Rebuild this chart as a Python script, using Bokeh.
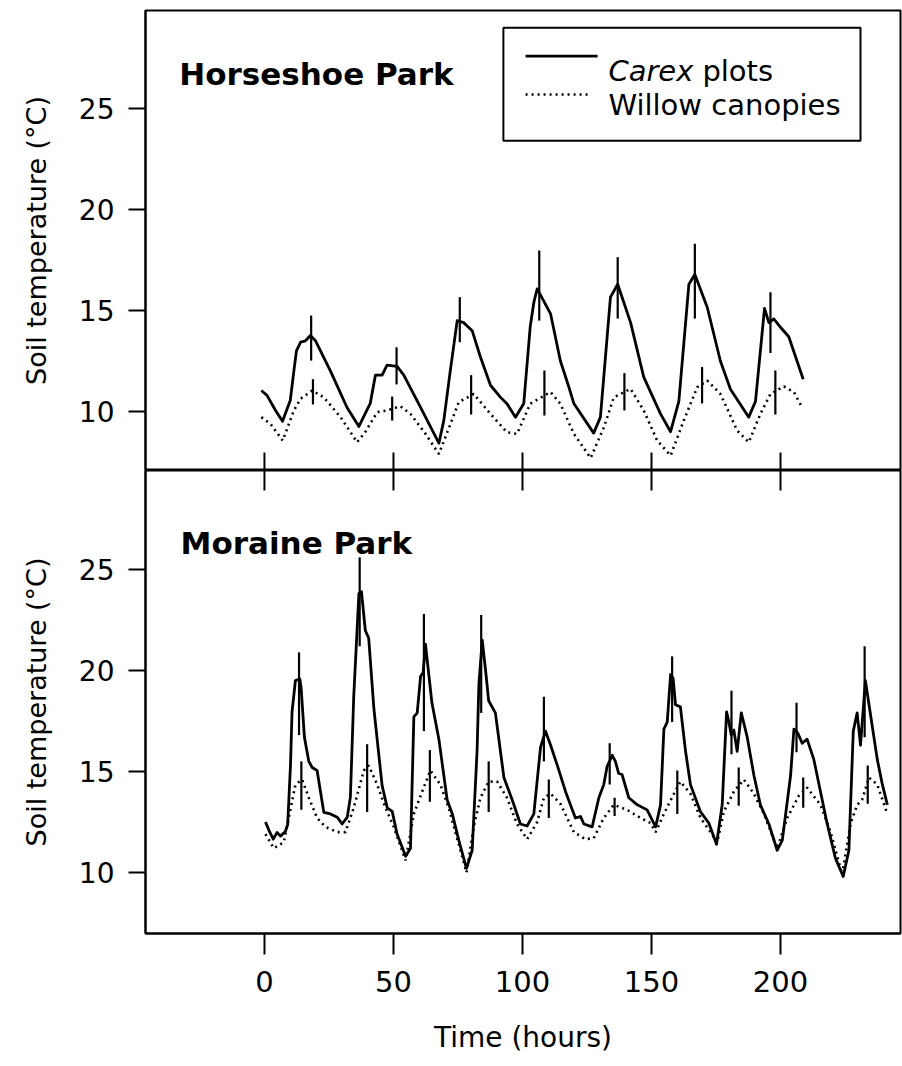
from bokeh.plotting import figure
from bokeh.layouts import column
from bokeh.models import Range1d, FixedTicker, Label, BoxAnnotation
from bokeh.embed import file_html
from bokeh.resources import INLINE

FONT = "DejaVu Sans"

# ---------------- data ----------------
# Horseshoe Park, Carex plots (time h, soil temperature degC)
hp_carex_t = [-1.2, 1, 4.3, 7, 10, 11.4, 12.4, 14, 15.9, 17.8, 19.8, 25.6, 32, 36.6, 41, 43, 45.6,
              47.5, 51.4, 54, 60.5, 67.6, 69.5, 72, 74.7, 77.2, 80.5, 83.7, 87.6, 91.5, 94, 97.3,
              100.5, 103, 104.4, 105.7, 110.9, 114.7, 118, 119.9, 127.6, 130.2, 134.1, 136.9,
              141.9, 147, 153.5, 157.4, 160.6, 164.5, 166.8, 171.6, 176.7, 180.6, 187.7, 190.3,
              193.8, 195.5, 197.4, 200, 203.2, 208.8]
hp_carex_v = [11.04, 10.8, 10.05, 9.52, 10.55, 12.0, 13.0, 13.43, 13.5, 13.76, 13.5, 12.0, 10.2,
              9.26, 10.4, 11.8, 11.8, 12.3, 12.23, 11.8, 10.2, 8.43, 9.55, 12.0, 14.5, 14.4, 14.0,
              12.7, 11.3, 10.7, 10.38, 9.72, 10.4, 14.2, 15.4, 16.07, 14.83, 12.5, 11.2, 10.4,
              8.93, 9.72, 15.66, 16.3, 14.4, 11.7, 9.88, 9.0, 10.5, 16.3, 16.78, 15.16, 12.5, 11.1,
              9.72, 10.5, 15.1, 14.4, 14.58, 14.17, 13.7, 11.6]
# Horseshoe Park, Willow canopies
hp_willow_t = [-1.2, 2.3, 7.1, 11.4, 14, 18.5, 23, 29.5, 35.9, 39, 43.7, 47.5, 52.7, 56.6, 62.4,
               67.6, 72.1, 75.3, 81.1, 87.6, 94, 97.9, 103, 110.9, 114.7, 119.9, 126.4, 131.5,
               135.4, 141.9, 147, 152.2, 157.4, 162.5, 167.7, 171.6, 176.7, 183.2, 187.7, 192.2,
               196.1, 201.3, 205.2, 208.4]
hp_willow_v = [9.72, 9.39, 8.56, 10.05, 10.63, 11.04, 10.7, 9.72, 8.48, 8.97, 9.97, 10.05, 10.26,
               9.88, 8.9, 7.9, 9.39, 10.46, 10.87, 9.88, 8.97, 8.89, 10.38, 10.96, 10.38, 8.9, 7.7,
               9.2, 10.7, 11.12, 10.05, 8.56, 7.82, 9.55, 11.2, 11.53, 10.87, 9.06, 8.48, 9.88,
               10.87, 11.24, 10.96, 10.2]
# Horseshoe Park error bars (time, low, high)
hp_carex_bar_t = [18.1, 51.2, 75.7, 106.5, 136.9, 166.8, 196.1]
hp_carex_bar_lo = [12.52, 11.34, 13.43, 14.5, 14.6, 14.6, 12.9]
hp_carex_bar_hi = [14.75, 13.18, 15.66, 17.97, 17.64, 18.3, 15.9]
hp_willow_bar_t = [18.8, 49.5, 80.1, 108.5, 139.5, 169.6, 198]
hp_willow_bar_lo = [10.35, 9.55, 9.85, 9.8, 10.05, 10.4, 9.85]
hp_willow_bar_hi = [11.6, 10.74, 11.8, 12.03, 11.9, 12.2, 12.03]

# Moraine Park, Carex plots
mp_carex_t = [0.4, 1.7, 3.4, 4.9, 6.2, 8.1, 9.0, 10.1, 10.7, 12, 13.7, 14.2, 15.5, 17.2, 18.5,
              20.4, 23, 25.6, 28.2, 30.1, 32.1, 33.3, 34.6, 36.6, 37.6, 39.1, 40.4, 42.4, 45.6,
              47.6, 49.5, 51.4, 54.7, 56.6, 57.9, 59.2, 60.5, 61.5, 62.4, 64.9, 67.6, 70.8, 72.8,
              75.3, 78.3, 80.5, 82.4, 83.1, 84.4, 85.7, 86.9, 89.5, 92.8, 96, 99.2, 101.8, 104.4,
              107, 108.9, 110.9, 113.5, 116.7, 120.5, 122.5, 123.8, 127, 129.6, 131.5, 132.8,
              134.8, 136, 137.3, 138.6, 141.2, 144.5, 148.3, 151.6, 153.5, 154.8, 156.1, 157.4,
              158.4, 159.3, 161.2, 163.2, 165.1, 169, 172.2, 175.2, 177.4, 179.1, 180, 180.9,
              181.9, 183.2, 184.8, 187.1, 189.7, 192.2, 195.5, 198.7, 200.7, 203.9, 205.2, 206.7,
              208.4, 210.3, 212.9, 215.5, 218.1, 221.3, 224.3, 226.5, 228.2, 229.7, 231, 232.9,
              234.3, 237.5, 239.4, 241.4]
mp_carex_v = [12.5, 12.1, 11.65, 11.98, 11.8, 12.03, 12.37, 15.34, 17.97, 19.5, 19.58, 19.16,
              16.68, 15.5, 15.2, 15.05, 12.98, 12.9, 12.74, 12.4, 12.74, 13.73, 18.7, 23.8, 23.9,
              21.98, 21.6, 18.13, 14.3, 13.2, 13.03, 11.9, 10.8, 11.2, 17.7, 17.9, 19.7, 19.9,
              21.3, 18.4, 16.6, 13.6, 12.9, 11.6, 10.2, 11.1, 16.0, 19.3, 21.5, 20.0, 18.5, 17.9,
              14.7, 13.6, 12.4, 12.3, 12.9, 16.2, 17.0, 16.3, 15.3, 14.0, 12.7, 12.77, 12.4, 12.26,
              13.7, 14.35, 15.25, 15.8, 15.5, 14.9, 14.85, 13.7, 13.35, 13.1, 12.26, 13.35, 17.1,
              17.45, 19.8, 19.6, 18.3, 18.2, 16.0, 14.35, 13.0, 12.45, 11.4, 13.35, 17.95, 17.45,
              16.8, 17.05, 16.0, 17.9, 16.7, 14.8, 13.35, 12.4, 11.1, 11.6, 14.8, 17.1, 16.9,
              16.4, 16.6, 15.6, 14.0, 12.4, 10.7, 9.8, 11.1, 17.0, 17.9, 16.3, 19.5, 18.3, 15.6,
              14.4, 13.35]
# Moraine Park, Willow canopies
mp_willow_t = [0.4, 3.6, 7.5, 9.4, 12, 14.6, 17.2, 20.4, 23.6, 28.2, 31.4, 34.6, 38.5, 40.4, 43.7,
               46.9, 50.1, 54.7, 57.9, 61.1, 64.3, 68.2, 71.4, 75.3, 78.3, 81.1, 83.7, 86.9, 90.2,
               94, 97.9, 101.8, 105.7, 108.3, 110.9, 114.7, 119.9, 124.4, 127.6, 131.5, 135.4,
               140.6, 145.7, 149.6, 151.6, 154.8, 158.7, 161.2, 165.1, 169, 172.9, 175.5, 178,
               181.9, 185.8, 189.7, 193.6, 198.7, 202.6, 207.1, 210.3, 215.5, 219.4, 223.9, 227.1,
               229.7, 231.6, 234.3, 237.5, 241.4]
mp_willow_v = [11.9, 11.2, 11.5, 12.7, 14.35, 14.6, 13.7, 12.7, 12.26, 12.0, 12.0, 13.2, 15.05,
               15.3, 14.35, 13.2, 12.26, 10.6, 12.9, 14.0, 15.05, 14.35, 13.2, 11.4, 10.0, 12.26,
               13.7, 14.5, 14.5, 13.7, 12.4, 11.65, 12.5, 13.7, 13.9, 13.4, 12.0, 11.65, 11.7,
               12.7, 13.35, 13.1, 12.7, 12.45, 12.0, 12.9, 13.9, 14.5, 13.9, 12.7, 12.0, 11.5,
               13.0, 14.0, 14.6, 13.9, 12.9, 11.2, 12.7, 13.8, 14.2, 13.35, 12.0, 9.9, 12.4,
               13.35, 13.6, 14.7, 14.35, 12.9]
# Moraine Park error bars
mp_carex_bar_t = [13.4, 36.9, 61.8, 84, 108.3, 133.8, 158, 181, 206.2, 232.6]
mp_carex_bar_lo = [16.8, 21.2, 17.0, 17.9, 15.5, 14.35, 17.45, 15.85, 15.95, 16.7]
mp_carex_bar_hi = [20.9, 25.6, 22.8, 22.75, 18.7, 16.4, 20.7, 19.0, 18.4, 21.2]
mp_willow_bar_t = [14.3, 39.8, 64.1, 86.9, 110.2, 135.7, 160, 183.8, 208.8, 233.8]
mp_willow_bar_lo = [13.1, 13.0, 13.5, 13.0, 12.7, 12.8, 12.9, 13.3, 13.2, 13.4]
mp_willow_bar_hi = [15.5, 16.35, 16.06, 15.5, 14.6, 13.7, 15.05, 15.2, 14.7, 15.3]

x_ticks = [0, 50, 100, 150, 200]
y_ticks = [10, 15, 20, 25]
panel_names = ["Horseshoe Park", "Moraine Park"]
series_names = ["Carex", "plots", "Willow canopies"]
x_title = "Time (hours)"
y_title = "Soil temperature (°C)"

# ---------------- layout / style ----------------
X_RANGE = (-46.1, 246.5)
TOP_Y = (7.08, 29.85)
BOT_Y = (6.98, 29.9)
PX_PER_DEG = 20.2
LINE_W = 2.8
DOT_W = 2.6
DOT_DASH = "2 4"


def style_y(p):
    ax = p.yaxis[0]
    ax.ticker = FixedTicker(ticks=y_ticks)
    ax.major_tick_out = 17
    ax.major_tick_in = 0
    ax.minor_tick_out = 0
    ax.minor_tick_in = 0
    ax.major_tick_line_width = 2
    ax.axis_line_width = 2
    ax.major_label_text_font = FONT
    ax.major_label_text_font_size = "28px"
    ax.major_label_text_color = "black"
    ax.major_label_standoff = 14
    ax.axis_label = y_title
    ax.axis_label_text_font = FONT
    ax.axis_label_text_font_size = "27px"
    ax.axis_label_text_font_style = "normal"
    ax.axis_label_text_color = "black"
    ax.axis_label_standoff = 24


def draw(p, ct, cv, wt, wv, cbt, cbl, cbh, wbt, wbl, wbh):
    p.line(ct, cv, line_color="black", line_width=LINE_W, line_join="round")
    p.line(wt, wv, line_color="black", line_width=DOT_W, line_dash=DOT_DASH)
    p.segment(x0=cbt, y0=cbl, x1=cbt, y1=cbh, line_color="black", line_width=2.2)
    p.segment(x0=wbt, y0=wbl, x1=wbt, y1=wbh, line_color="black", line_width=2.2)


def base(height, y_range, mt, mb, mr):
    p = figure(width=902, height=height, x_range=Range1d(*X_RANGE), y_range=Range1d(*y_range),
               output_backend="svg", toolbar_location=None,
               min_border_left=145, min_border_right=mr, min_border_top=mt, min_border_bottom=mb)
    p.grid.visible = False
    p.outline_line_color = "black"
    p.outline_line_width = 2
    p.background_fill_color = "white"
    p.border_fill_color = "white"
    style_y(p)
    return p


# ---- top panel ----
top = base(470, TOP_Y, 10, 0, 2)
top.xaxis.visible = False
# tick marks along the shared border (pointing up into the top panel)
top.segment(x0=x_ticks, y0=[TOP_Y[0]] * len(x_ticks), x1=x_ticks,
            y1=[TOP_Y[0] + 18 / PX_PER_DEG] * len(x_ticks), line_color="black", line_width=2)
draw(top, hp_carex_t, hp_carex_v, hp_willow_t, hp_willow_v,
     hp_carex_bar_t, hp_carex_bar_lo, hp_carex_bar_hi,
     hp_willow_bar_t, hp_willow_bar_lo, hp_willow_bar_hi)
top.add_layout(Label(x=-33, y=26.7, text=panel_names[0], text_font=FONT, text_font_size="31px",
                     text_font_style="bold", text_color="black", text_baseline="alphabetic"))

# legend (drawn in the top panel's data space)
LEG_L, LEG_R, LEG_T, LEG_B = 92.6, 231.0, 29.0, 23.4
top.add_layout(BoxAnnotation(left=LEG_L, right=LEG_R, top=LEG_T, bottom=LEG_B,
                             fill_alpha=0.0, line_color="black", line_alpha=1.0, line_width=2,
                             level="underlay"))
top.segment(x0=[101.2], y0=[27.59], x1=[129.1], y1=[27.59], line_color="black", line_width=LINE_W)
top.segment(x0=[101.2], y0=[25.69], x1=[125.6], y1=[25.69], line_color="black", line_width=DOT_W,
            line_dash=DOT_DASH)
top.add_layout(Label(x=133.3, y=26.88, text=series_names[0], text_font=FONT, text_font_size="29px",
                     text_font_style="italic", text_color="black", text_baseline="alphabetic"))
top.add_layout(Label(x=133.3, y=26.88, x_offset=94, text=series_names[1], text_font=FONT,
                     text_font_size="29px", text_color="black", text_baseline="alphabetic"))
top.add_layout(Label(x=133.3, y=25.15, text=series_names[2], text_font=FONT, text_font_size="29px",
                     text_color="black", text_baseline="alphabetic"))

# ---- bottom panel ----
bot = base(596, BOT_Y, 0, 133, 0)
bx = bot.xaxis[0]
bx.ticker = FixedTicker(ticks=x_ticks)
bx.major_tick_in = 0
bx.major_tick_out = 21
bx.minor_tick_in = 0
bx.minor_tick_out = 0
bx.major_tick_line_width = 2
bx.axis_line_width = 2
bx.major_label_text_font = FONT
bx.major_label_text_font_size = "29px"
bx.major_label_text_color = "black"
bx.major_label_standoff = 16
bx.axis_label = x_title
bx.axis_label_text_font = FONT
bx.axis_label_text_font_size = "28px"
bx.axis_label_text_font_style = "normal"
bx.axis_label_text_color = "black"
bx.axis_label_standoff = 26

# tick marks along the shared border (pointing down into the bottom panel)
bot.segment(x0=x_ticks, y0=[BOT_Y[1]] * len(x_ticks), x1=x_ticks,
            y1=[BOT_Y[1] - 20 / PX_PER_DEG] * len(x_ticks), line_color="black", line_width=2)

draw(bot, mp_carex_t, mp_carex_v, mp_willow_t, mp_willow_v,
     mp_carex_bar_t, mp_carex_bar_lo, mp_carex_bar_hi,
     mp_willow_bar_t, mp_willow_bar_lo, mp_willow_bar_hi)
bot.add_layout(Label(x=-32.5, y=26.3, text=panel_names[1], text_font=FONT, text_font_size="31px",
                     text_font_style="bold", text_color="black", text_baseline="alphabetic"))

layout = column(top, bot, spacing=0)
open("out.html", "w").write(file_html(layout, INLINE))
